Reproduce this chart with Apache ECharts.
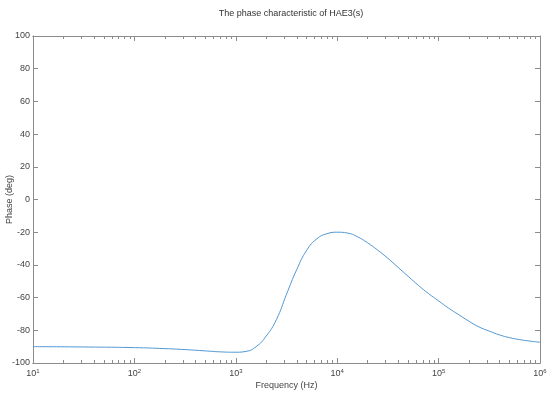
<!DOCTYPE html>
<html>
<head>
<meta charset="utf-8">
<script src="https://cdn.jsdelivr.net/npm/echarts@6/dist/echarts.min.js"></script>
<style>
    html, body { margin: 0; padding: 0; background: #fff; }
    #container { width: 550px; height: 393px; }
</style>
</head>
<body>
<div id="container"></div>
<script>
// 频率 (Hz)
var freqs = [10, 31.6, 100, 200, 316, 501, 708, 1000, 1259, 1585, 1995, 2512, 3162, 3981, 5012, 6310,
    7943, 10000, 12589, 15849, 19953, 25119, 31623, 39811, 50119, 63096, 79433, 100000, 125893,
    158489, 199526, 251189, 316228, 398107, 501187, 630957, 794328, 1000000];
// 相位 (deg)
var phases = [-90, -90.2, -90.6, -91.2, -91.8, -92.6, -93.2, -93.4, -92.9, -90, -83.5, -73.5, -58,
    -43, -31, -24, -20.9, -20, -20.5, -22.8, -26.5, -31, -36, -41.5, -47, -52.5, -57.5, -62, -66.5,
    -70.5, -74.5, -78, -80.5, -82.8, -84.5, -85.7, -86.6, -87.3];
var yTicks = [-100, -80, -60, -40, -20, 0, 20, 40, 60, 80, 100];
var decades = [10, 100, 1000, 10000, 100000, 1000000];

// 次刻度 2..9 x 10^n
var minorTicks = [];
for (var d = 0; d < decades.length - 1; d++) {
    for (var k = 2; k <= 9; k++) {
        minorTicks.push(decades[d] * k);
    }
}

var lineColor = '#8c8c8c';
var textColor = '#444';

function logAxis(position, showLabel, ticks, len) {
    return {
        type: 'log',
        logBase: 10,
        position: position,
        min: 10,
        max: 1000000,
        axisLine: { show: true, onZero: false, lineStyle: { color: lineColor, width: 1 } },
        axisTick: { show: true, inside: true, length: len, customValues: ticks, lineStyle: { color: lineColor } },
        axisLabel: {
            show: showLabel,
            customValues: decades,
            margin: 5,
            color: textColor,
            fontFamily: 'Arial',
            fontSize: 9,
            formatter: function (v) {
                return '10{s|' + Math.round(Math.log10(v)) + '}';
            },
            rich: {
                s: { fontSize: 6, verticalAlign: 'top', padding: [0, 0, 5, 0] }
            }
        },
        splitLine: { show: false }
    };
}

var xBottom = logAxis('bottom', true, decades, 5);
xBottom.name = 'Frequency (Hz)';
xBottom.nameLocation = 'middle';
xBottom.nameGap = 18;
xBottom.nameMoveOverlap = false;
xBottom.nameTextStyle = { color: textColor, fontFamily: 'Arial', fontSize: 9 };

var option = {
    animation: false,
    title: {
        text: 'The phase characteristic of HAE3(s)',
        left: 286,
        top: 4,
        textAlign: 'center',
        textStyle: { color: '#333', fontFamily: 'Arial', fontSize: 9, fontWeight: 'normal' }
    },
    grid: { left: 33, right: 10, top: 36, bottom: 30, outerBoundsMode: 'none', containLabel: false },
    xAxis: [
        xBottom,
        logAxis('bottom', false, minorTicks, 3),
        logAxis('top', false, decades, 5),
        logAxis('top', false, minorTicks, 3)
    ],
    yAxis: [{
        type: 'value',
        min: -100,
        max: 100,
        interval: 20,
        position: 'left',
        name: 'Phase (deg)',
        nameLocation: 'middle',
        nameGap: 19,
        nameMoveOverlap: false,
        nameTextStyle: { color: textColor, fontFamily: 'Arial', fontSize: 9 },
        axisLine: { show: true, lineStyle: { color: lineColor } },
        axisTick: { show: true, inside: true, length: 5, lineStyle: { color: lineColor } },
        axisLabel: { color: textColor, fontFamily: 'Arial', fontSize: 9, margin: 3, customValues: yTicks },
        splitLine: { show: false }
    }, {
        type: 'value',
        min: -100,
        max: 100,
        interval: 20,
        position: 'right',
        axisLine: { show: true, lineStyle: { color: lineColor } },
        axisTick: { show: true, inside: true, length: 5, lineStyle: { color: lineColor } },
        axisLabel: { show: false },
        splitLine: { show: false }
    }],
    series: [{
        type: 'line',
        xAxisIndex: 0,
        yAxisIndex: 0,
        showSymbol: false,
        smooth: 0.5,
        data: freqs.map(function (f, i) { return [f, phases[i]]; }),
        lineStyle: { color: '#5097d3', width: 1 }
    }]
};

var container = echarts.init(document.getElementById('container'));
container.setOption(option);
</script>
</body>
</html>
